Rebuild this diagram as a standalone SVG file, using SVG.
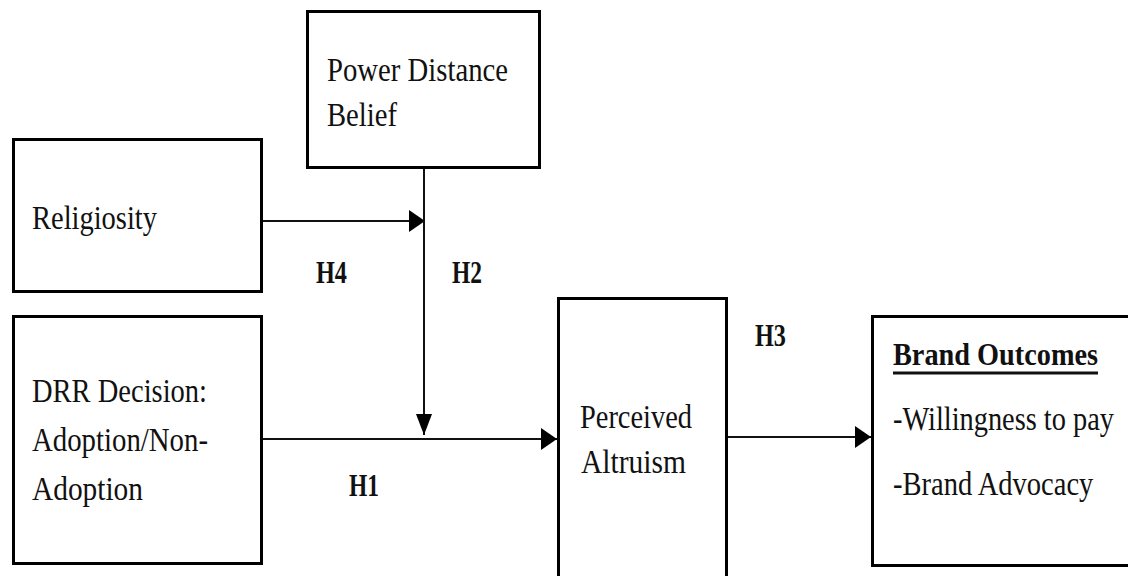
<svg xmlns="http://www.w3.org/2000/svg" width="1128" height="576" viewBox="0 0 1128 576">
  <defs>
    <style>
      .box { fill: #ffffff; stroke: #000000; stroke-width: 3; }
      .conn { stroke: #111111; stroke-width: 2; fill: none; }
      .lbl { font-family: "Liberation Serif", "Times New Roman", serif; font-size: 34px; fill: #111111; }
      .hyp { font-family: "Liberation Serif", "Times New Roman", serif; font-size: 32px; font-weight: bold; fill: #111111; }
      .title { font-family: "Liberation Serif", "Times New Roman", serif; font-size: 32px; font-weight: bold; fill: #111111; }
    </style>
    <!-- wide head for horizontal links -->
    <marker id="head-h" markerUnits="userSpaceOnUse" markerWidth="16" markerHeight="22" refX="16" refY="11" orient="auto">
      <path d="M0,0 L16,11 L0,22 Z" fill="#000000"/>
    </marker>
    <!-- long head for the vertical moderator link -->
    <marker id="head-v" markerUnits="userSpaceOnUse" markerWidth="21" markerHeight="16" refX="21" refY="8" orient="auto">
      <path d="M0,0 L21,8 L0,16 Z" fill="#000000"/>
    </marker>
  </defs>

  <rect width="1128" height="576" fill="#ffffff"/>

  <!-- connectors -->
  <g id="connectors">
    <line class="conn" x1="263" y1="221" x2="425" y2="221" marker-end="url(#head-h)"/>
    <line class="conn" x1="424" y1="169" x2="424" y2="435" marker-end="url(#head-v)"/>
    <line class="conn" x1="263" y1="439" x2="557" y2="439" marker-end="url(#head-h)"/>
    <line class="conn" x1="728" y1="437" x2="871" y2="437" marker-end="url(#head-h)"/>
  </g>

  <!-- hypothesis labels -->
  <g id="hypotheses">
    <text class="hyp" x="316" y="283" textLength="31" lengthAdjust="spacingAndGlyphs">H4</text>
    <text class="hyp" x="452" y="283" textLength="30" lengthAdjust="spacingAndGlyphs">H2</text>
    <text class="hyp" x="349" y="496" textLength="30" lengthAdjust="spacingAndGlyphs">H1</text>
    <text class="hyp" x="755" y="346" textLength="31" lengthAdjust="spacingAndGlyphs">H3</text>
  </g>

  <g id="power-distance">
    <rect class="box" x="307.5" y="11.5" width="232" height="156"/>
    <text class="lbl" x="327" y="81" textLength="181" lengthAdjust="spacingAndGlyphs">Power Distance</text>
    <text class="lbl" x="327" y="126" textLength="70" lengthAdjust="spacingAndGlyphs">Belief</text>
  </g>

  <g id="religiosity">
    <rect class="box" x="13.5" y="139.5" width="248" height="152"/>
    <text class="lbl" x="32" y="229" textLength="125" lengthAdjust="spacingAndGlyphs">Religiosity</text>
  </g>

  <g id="drr-decision">
    <rect class="box" x="13.5" y="316.5" width="248" height="247"/>
    <text class="lbl" x="32" y="402" textLength="175" lengthAdjust="spacingAndGlyphs">DRR Decision:</text>
    <text class="lbl" x="32" y="451" textLength="176" lengthAdjust="spacingAndGlyphs">Adoption/Non-</text>
    <text class="lbl" x="32" y="500" textLength="111" lengthAdjust="spacingAndGlyphs">Adoption</text>
  </g>

  <g id="perceived-altruism">
    <rect class="box" x="558.5" y="298.5" width="168" height="290"/>
    <text class="lbl" x="580" y="428" textLength="112" lengthAdjust="spacingAndGlyphs">Perceived</text>
    <text class="lbl" x="581" y="473" textLength="105" lengthAdjust="spacingAndGlyphs">Altruism</text>
  </g>

  <g id="brand-outcomes">
    <rect class="box" x="872.5" y="316.5" width="270" height="249"/>
    <text class="title" x="893" y="365" textLength="205" lengthAdjust="spacingAndGlyphs">Brand Outcomes</text>
    <line x1="893" y1="373" x2="1098" y2="373" stroke="#111111" stroke-width="3"/>
    <!-- narrowed horizontally so the lines sit inside the canvas -->
    <text class="lbl" transform="translate(893,430) scale(0.834,1)">-Willingness to pay</text>
    <text class="lbl" transform="translate(893,495) scale(0.839,1)">-Brand Advocacy</text>
  </g>
</svg>
